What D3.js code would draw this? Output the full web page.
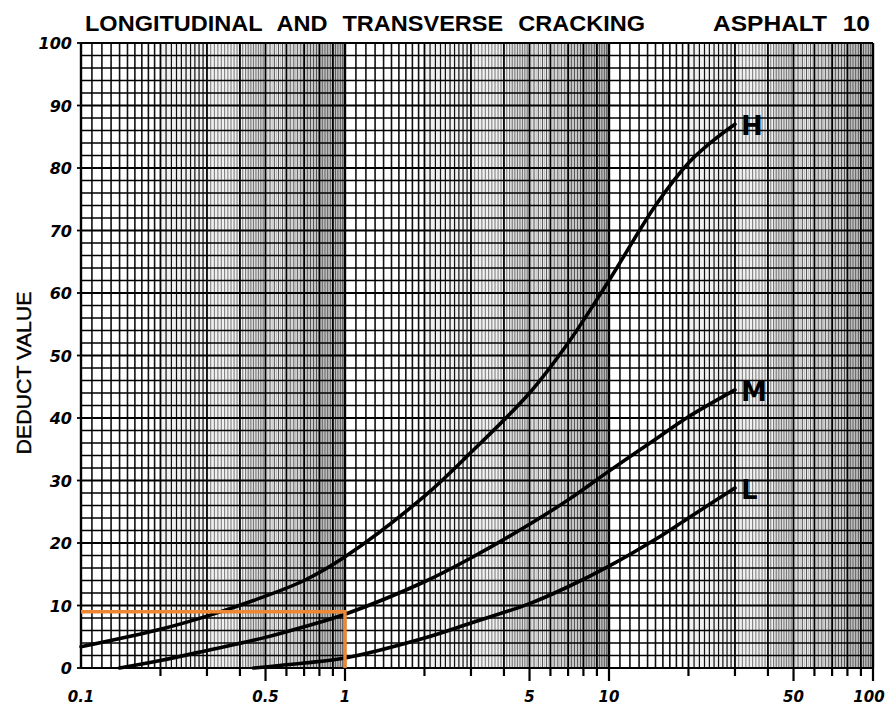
<!DOCTYPE html>
<html>
<head>
<meta charset="utf-8">
<script src="https://cdn.jsdelivr.net/npm/d3@7"></script>
<style>
  html, body { margin: 0; padding: 0; background: #fff; }
  svg { display: block; }
</style>
</head>
<body>
<svg id="chart" width="895" height="711"></svg>
<script>
// ---- data ----
const titleLeft = "LONGITUDINAL AND TRANSVERSE CRACKING";
const titleRight = "ASPHALT 10";
const yTitle = "DEDUCT VALUE";
const xTickLabels = [0.1, 0.5, 1, 5, 10, 50, 100];
const yTickLabels = [0, 10, 20, 30, 40, 50, 60, 70, 80, 90, 100];

const densityH = [0.1, 0.2, 0.3, 0.45, 0.7, 1, 2, 3, 5, 7, 10, 15, 20, 25, 30];
const valuesH  = [3.4, 6.2, 8.3, 10.8, 14.0, 17.8, 27.5, 34.5, 44, 52, 62, 74, 80.8, 84.5, 87];

const densityM = [0.14, 0.2, 0.3, 0.5, 0.7, 1, 2, 3, 5, 7, 10, 15, 20, 30];
const valuesM  = [0, 1.2, 2.8, 4.9, 6.6, 8.6, 13.8, 17.6, 23, 26.9, 31.5, 36.6, 40.2, 44.5];

const densityL = [0.45, 0.7, 1, 2, 3, 5, 7, 10, 15, 20, 30];
const valuesL  = [0, 0.8, 1.6, 4.8, 7.2, 10.3, 13, 16.3, 20.6, 24, 28.8];

const curveLabels = ["H", "M", "L"];
const exampleDensity = 1;
const exampleValue = 9;

(function () {
// ---- layout ----
const svg = d3.select("#chart");
const pL = 81, pR = 873, pT = 43, pB = 668;
const x = d3.scaleLog().domain([0.1, 100]).range([pL, pR]);
const y = d3.scaleLinear().domain([0, 100]).range([pB, pT]);

const grid = svg.append("g");
const decades = [0.1, 1, 10];

// scanned-paper shading bands (mantissa ranges within each decade)
const bandDefs = [
  { a: 2.0, b: 4.2, c: "#f0f0f0" },
  { a: 4.2, b: 5.0, c: "#dcdcdc" },
  { a: 5.0, b: 7.0, c: "#e8e8e8" },
  { a: 7.0, b: 10.0, c: "#d6d6d6" }
];
const bands = [];
decades.forEach(d => bandDefs.forEach(b => bands.push({ x0: d * b.a, x1: d * b.b, c: b.c })));
grid.selectAll(".band").data(bands).join("rect")
  .attr("x", d => x(d.x0)).attr("width", d => x(d.x1) - x(d.x0))
  .attr("y", pT).attr("height", pB - pT)
  .attr("fill", d => d.c);

// vertical log grid
const fine = [], medium = [], major = [];
decades.forEach(d => {
  for (let k = 10; k < 100; k++) {
    const v = d * k / 10;
    if (k % 10 === 0) major.push(v);
    else if (k < 50 || k % 2 === 0) medium.push(v);
    else fine.push(v);
  }
});
major.push(100);

const mant = d => d / Math.pow(10, Math.floor(Math.log10(d) + 1e-9));

grid.selectAll(".vf").data(fine).join("line")
  .attr("x1", d => x(d)).attr("x2", d => x(d))
  .attr("y1", pT).attr("y2", pB)
  .attr("stroke", "#9a9a9a").attr("stroke-width", 0.5);
grid.selectAll(".vm").data(medium).join("line")
  .attr("x1", d => x(d)).attr("x2", d => x(d))
  .attr("y1", pT).attr("y2", pB)
  .attr("stroke", d => mant(d) < 3 ? "#111" : "#444")
  .attr("stroke-width", d => {
    const m = mant(d);
    return m < 2 ? 1.6 : (m < 3 ? 1.2 : (m < 5 ? 0.7 : 0.9));
  });
grid.selectAll(".vM").data(major).join("line")
  .attr("x1", d => x(d)).attr("x2", d => x(d))
  .attr("y1", pT).attr("y2", pB)
  .attr("stroke", "#000").attr("stroke-width", d => {
    const l = Math.log10(d);
    return Math.abs(l - Math.round(l)) < 1e-6 ? 2.4 : 1.8;
  });

// horizontal grid every 2 units
const hLines = d3.range(0, 101, 2);
grid.selectAll(".h").data(hLines).join("line")
  .attr("x1", pL).attr("x2", pR)
  .attr("y1", d => y(d)).attr("y2", d => y(d))
  .attr("stroke", "#000").attr("stroke-width", d => d % 10 === 0 ? 1.8 : 1.5);

// left stub ticks
grid.selectAll(".yt").data(yTickLabels).join("line")
  .attr("x1", pL - 4).attr("x2", pL)
  .attr("y1", d => y(d)).attr("y2", d => y(d))
  .attr("stroke", "#000").attr("stroke-width", 1.8);

// bottom ticks
const tickVals = [];
decades.forEach(d => { for (let m = 2; m <= 10; m++) tickVals.push(d * m); });
svg.append("g").selectAll("line").data(tickVals).join("line")
  .attr("x1", d => x(d)).attr("x2", d => x(d))
  .attr("y1", pB)
  .attr("y2", d => {
    const isLong = xTickLabels.some(v => Math.abs(v - d) < 1e-9);
    return pB + (isLong ? 13 : 8);
  })
  .attr("stroke", "#000").attr("stroke-width", 2.2);

// x tick labels
svg.append("g").selectAll("text").data(xTickLabels).join("text")
  .attr("x", d => x(d) + (d === 100 ? -4 : 0))
  .attr("y", 702)
  .attr("text-anchor", "middle")
  .attr("font-family", "'DejaVu Sans', sans-serif")
  .attr("font-weight", "bold").attr("font-style", "italic")
  .attr("font-size", 15)
  .text(d => String(d));

// y tick labels
svg.append("g").selectAll("text").data(yTickLabels).join("text")
  .attr("x", 72)
  .attr("y", d => y(d) + 6)
  .attr("text-anchor", "end")
  .attr("font-family", "'DejaVu Sans', sans-serif")
  .attr("font-weight", "bold").attr("font-style", "italic")
  .attr("font-size", 16)
  .text(d => String(d));

// titles
svg.append("text")
  .attr("x", 85).attr("y", 31)
  .attr("font-family", "'Liberation Sans', Arial, sans-serif")
  .attr("font-weight", "bold").attr("font-size", 22)
  .attr("textLength", 560).attr("lengthAdjust", "spacingAndGlyphs")
  .attr("word-spacing", 8)
  .text(titleLeft);
svg.append("text")
  .attr("x", 713).attr("y", 31)
  .attr("font-family", "'Liberation Sans', Arial, sans-serif")
  .attr("font-weight", "bold").attr("font-size", 22)
  .attr("textLength", 157).attr("lengthAdjust", "spacingAndGlyphs")
  .attr("word-spacing", 8)
  .text(titleRight);

svg.append("text")
  .attr("transform", "translate(31,373) rotate(-90)")
  .attr("text-anchor", "middle")
  .attr("font-family", "'Liberation Sans', Arial, sans-serif")
  .attr("font-size", 21)
  .attr("stroke", "#000").attr("stroke-width", 0.4)
  .attr("textLength", 163).attr("lengthAdjust", "spacingAndGlyphs")
  .text(yTitle);

// curves
const line = d3.line().x(d => x(d[0])).y(d => y(d[1])).curve(d3.curveCatmullRom.alpha(0.5));
const series = [
  { name: curveLabels[0], pts: d3.zip(densityH, valuesH) },
  { name: curveLabels[1], pts: d3.zip(densityM, valuesM) },
  { name: curveLabels[2], pts: d3.zip(densityL, valuesL) }
];
svg.append("g").selectAll("path").data(series).join("path")
  .attr("d", d => line(d.pts))
  .attr("fill", "none").attr("stroke", "#000").attr("stroke-width", 3.6)
  .attr("stroke-linecap", "round");

svg.append("g").selectAll("text").data(series).join("text")
  .attr("x", d => x(d.pts[d.pts.length - 1][0]) + 6)
  .attr("y", d => y(d.pts[d.pts.length - 1][1]) + 11)
  .attr("font-family", "'DejaVu Sans', sans-serif")
  .attr("font-weight", "bold").attr("font-size", 26)
  .text(d => d.name);

// example orange guide
svg.append("path")
  .attr("d", d3.line()([[x(0.1), y(exampleValue)], [x(exampleDensity), y(exampleValue)], [x(exampleDensity), y(0)]]))
  .attr("fill", "none").attr("stroke", "#EE8633").attr("stroke-width", 3.4);
})();
</script>
</body>
</html>
